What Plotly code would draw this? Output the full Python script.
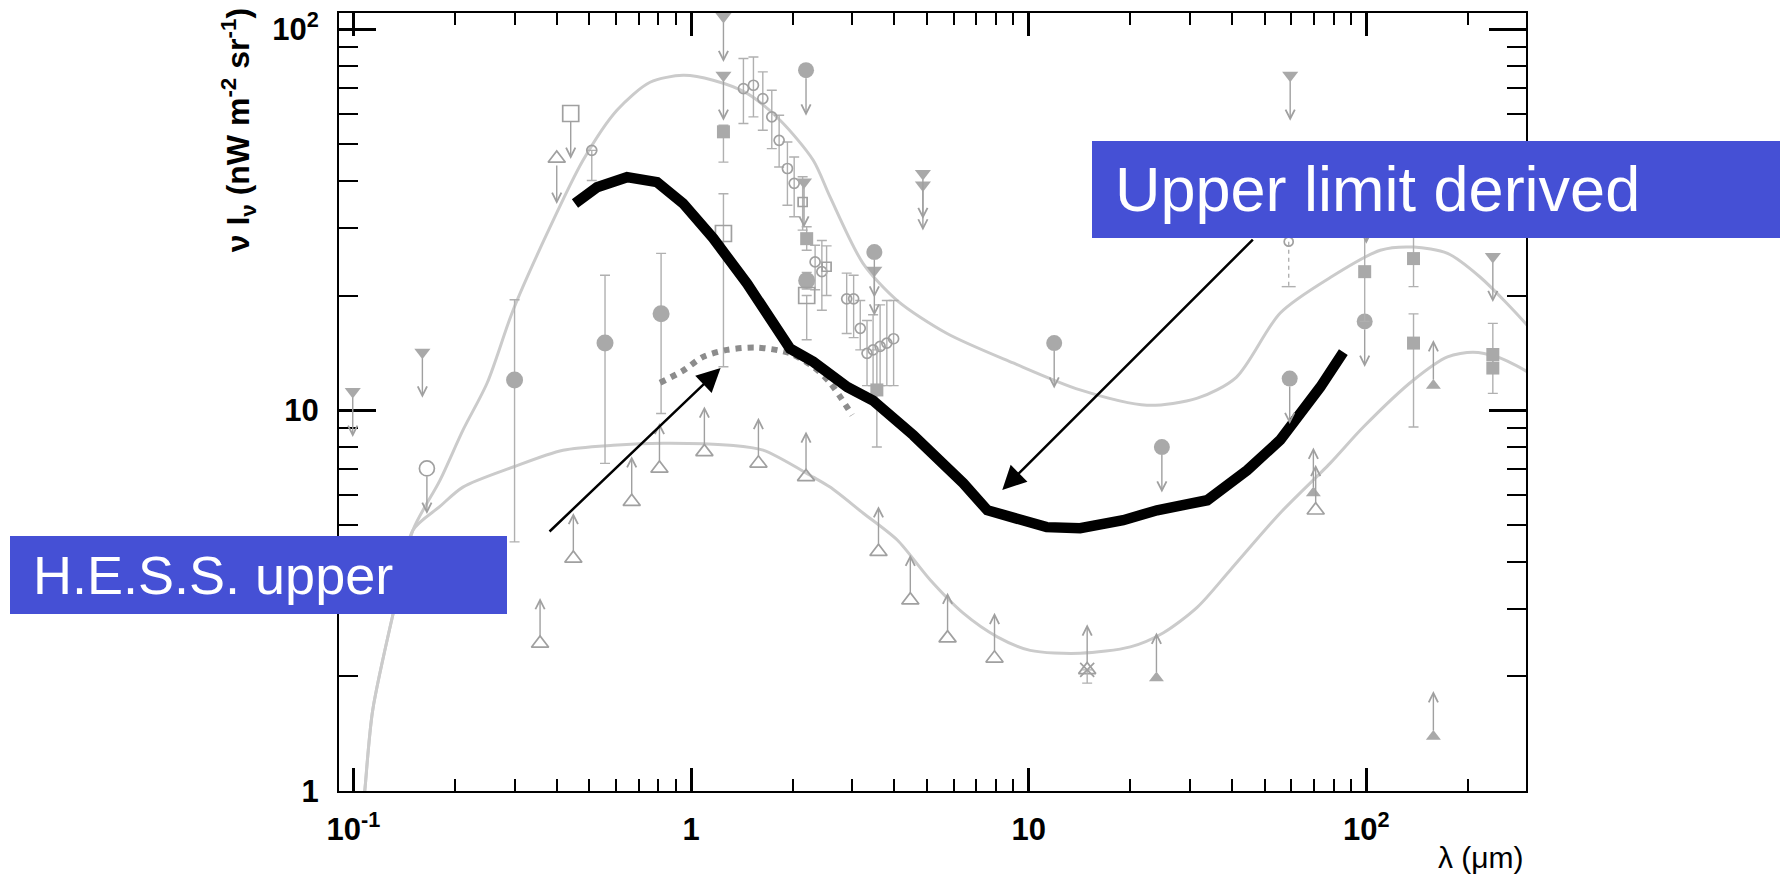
import numpy as np
import plotly.graph_objects as go

# ---------------- data (wavelength in micron, nu I_nu in nW m^-2 sr^-1) ----------------
# light grey model envelope curves
env_upper_x = [0.106, 0.108, 0.114, 0.1345, 0.150, 0.1805, 0.211, 0.249, 0.297, 0.3745,
               0.4786, 0.603, 0.756, 0.947, 1.162, 1.465, 1.835, 2.30, 2.58, 3.23,
               4.08, 5.73, 9.0, 14.2, 22.4, 31.6, 41.2, 55.6, 78.2, 110,
               138, 174, 218, 296, 320]
env_upper_y = [0.85, 1.0, 1.63, 3.23, 4.84, 6.55, 8.86, 11.8, 18.3, 29.1,
               45.3, 61.3, 72.6, 75.7, 73.5, 67.9, 57.7, 45.3, 36.3, 24.3,
               19.4, 15.9, 13.3, 11.3, 10.3, 10.75, 12.2, 18.0, 22.3, 26.3,
               26.8, 25.8, 22.3, 16.9, 15.5]
env_lower_x = [0.106, 0.108, 0.114, 0.1345, 0.150, 0.180, 0.211, 0.297, 0.4175, 0.5875,
               0.826, 1.305, 1.634, 2.30, 2.58, 3.23, 4.08, 5.11, 6.40, 8.07,
               10.1, 14.2, 20.0, 25.0, 31.6, 39.5, 55.6, 78.2, 98, 138,
               174, 207, 244, 296, 320]
env_lower_y = [0.85, 1.0, 1.63, 3.23, 4.84, 5.58, 6.28, 7.09, 7.85, 8.09,
               8.19, 8.09, 7.85, 6.67, 6.28, 5.37, 4.56, 3.58, 2.93, 2.54,
               2.34, 2.30, 2.39, 2.60, 3.04, 3.80, 5.37, 7.26, 9.03, 12.0,
               13.8, 14.2, 13.8, 12.7, 12.0]

# H.E.S.S. upper limit (thick black)
hess_x = [0.453, 0.5265, 0.646, 0.793, 0.947, 1.162, 1.465, 1.965, 2.30, 2.90, 3.46, 4.55,
          6.40, 7.54, 11.3, 14.2, 19.05, 24.0, 33.8, 44.4, 55.6, 73.1, 85.5]
hess_y = [34.9, 38.5, 40.9, 39.7, 34.9, 28.3, 21.5, 14.5, 13.4, 11.5, 10.6, 8.60,
          6.43, 5.46, 4.93, 4.90, 5.14, 5.46, 5.80, 6.96, 8.35, 11.5, 14.2]

# grey dotted curve
dot_x = [0.809, 0.947, 1.085, 1.279, 1.569, 1.965, 2.30, 2.58, 3.0]
dot_y = [11.8, 12.7, 13.8, 14.4, 14.6, 14.1, 13.0, 11.8, 9.7]

# filled circles with error bars
fc_x = [0.30, 0.556, 0.815, 2.20]
fc_y = [12.0, 15.0, 17.9, 21.9]
fc_hi = [19.5, 22.6, 25.8, 23.0]
fc_lo = [4.51, 7.25, 9.8, 20.8]
# filled circles, upper limits
fcu_x = [2.19, 3.49, 11.9, 24.8, 59.3, 98.9, 100.0]
fcu_y = [78.1, 26.0, 15.0, 8.0, 12.1, 17.1, 36.0]
# filled inverted triangles, upper limits
tdn_x = [0.0995, 0.160, 1.247, 1.247, 2.16, 3.49, 4.86, 4.86, 59.5, 237]
tdn_y = [11.2, 14.2, 108, 75.7, 39.7, 23.3, 41.8, 39.0, 75.7, 25.3]
# filled squares with error bars
fs_x = [1.247, 2.20, 3.55, 98.9, 138, 138, 237, 237]
fs_y = [53.8, 28.2, 11.3, 23.1, 25.0, 15.0, 14.0, 12.9]
fs_hi = [56.0, 30.3, 14.4, 35.0, 50.0, 17.9, 16.9, 14.0]
fs_lo = [44.8, 26.3, 8.0, 17.1, 21.1, 9.03, 12.6, 11.07]
# filled triangles, lower limits
tup_x = [23.9, 69.7, 158, 158]
tup_y = [1.98, 6.06, 11.6, 1.39]
# open triangles, lower limits
otl_x = [0.357, 0.448, 0.667, 0.806, 1.095, 1.583, 2.19, 3.59, 4.46, 5.75, 7.92, 14.9, 70.8]
otl_y = [2.44, 4.08, 5.75, 7.03, 7.77, 7.25, 6.68, 4.25, 3.17, 2.52, 2.23, 2.08, 5.46]
# open triangle, upper limit
otu_x = [0.40]
otu_y = [45.8]
# large open circle, upper limit
ocu_x = [0.165]
ocu_y = [7.03]
# open squares
osl_x = [0.44]
osl_y = [60.1]
os_x = [1.247, 2.20]
os_y = [29.1, 20.0]
os_hi = [37.0, 20.0]
os_lo = [13.0, 15.3]
# small open squares
ss_x = [2.14, 2.52]
ss_y = [35.2, 23.8]
ss_hi = [41.0, 27.0]
ss_lo = [29.7, 20.0]
# small open circles with error bars
sc_x = [0.508, 1.429, 1.53, 1.631, 1.734, 1.823, 1.929, 2.02, 2.33, 2.44,
        2.89, 3.03, 3.17, 3.32, 3.46, 3.63, 3.80, 3.98]
sc_y = [48.1, 69.9, 71.3, 65.8, 58.9, 51.1, 43.1, 39.4, 24.5, 23.1,
        19.6, 19.6, 16.4, 14.1, 14.4, 14.7, 15.0, 15.4]
sc_hi = [48.1, 83.8, 84.6, 77.3, 69.2, 59.5, 50.6, 46.2, 27.1, 27.9,
         22.9, 22.6, 19.4, 17.2, 17.8, 18.9, 19.4, 19.4]
sc_lo = [40.1, 56.6, 58.9, 54.3, 48.6, 43.5, 34.5, 32.2, 20.7, 18.3,
         15.9, 15.5, 14.4, 11.6, 11.6, 11.6, 11.6, 11.6]
# cross marker (lower limit)
xm_x = [14.9]
xm_y = [2.08]
xm_lo = [1.92]
# point with dashed error bar
dsh_x = [58.9]
dsh_y = [27.7]
dsh_lo = [21.1]

# annotation pointers (tip, tail)
ul_tip = (8.35, 6.17)
ul_tail = (46.6, 28.3)
hess_tip = (1.223, 12.9)
hess_tail = (0.377, 4.76)

x_tick_vals = [0.1, 1, 10, 100]
x_tick_text = ["10<sup>-1</sup>", "1", "10", "10<sup>2</sup>"]
y_tick_vals = [1, 10, 100]
y_tick_text = ["1", "10", "10<sup>2</sup>"]

# ---------------- style ----------------
ENV_C = "#cbcbcb"
FILL_C = "#a9a9a9"
OPEN_C = "#a0a0a0"
ERR_C = "#b0b0b0"
ARROW_C = "#a0a0a0"
BLUE = "#4550d5"
FONT = "Liberation Sans, Arial, Helvetica, sans-serif"
ARROW_LEN = 47

W, H = 1780, 878
L, R, T, B = 339, 1525.6, 12.7, 791
pw, ph = R - L, B - T


def px(xp):
    return (xp - L) / pw


def py(yp):
    return (B - yp) / ph


fig = go.Figure()


def curve(x, y, color, width, dash=None, shape="spline"):
    line = dict(color=color, width=width, shape=shape)
    if dash:
        line["dash"] = dash
    if shape == "spline":
        line["smoothing"] = 0.8
    fig.add_trace(go.Scatter(x=x, y=y, mode="lines", line=line,
                             hoverinfo="skip", showlegend=False))


def err(y, hi, lo):
    return dict(type="data", symmetric=False,
                array=[h - v for h, v in zip(hi, y)],
                arrayminus=[v - l for v, l in zip(y, lo)],
                color=ERR_C, thickness=1.4, width=5)


def points(x, y, symbol, size, open_=False, error=None):
    if open_:
        marker = dict(symbol=symbol, size=size, color=OPEN_C,
                      line=dict(color=OPEN_C, width=1.7))
    else:
        marker = dict(symbol=symbol, size=size, color=FILL_C,
                      line=dict(color=FILL_C, width=0))
    fig.add_trace(go.Scatter(x=x, y=y, mode="markers", marker=marker,
                             error_y=error, hoverinfo="skip", showlegend=False))


def limit_arrows(x, y, up, standoff):
    for xv, yv in zip(x, y):
        fig.add_annotation(x=np.log10(xv), y=np.log10(yv), xref="x", yref="y",
                           text="", showarrow=True, ax=0,
                           ay=-ARROW_LEN if up else ARROW_LEN,
                           arrowside="start", startarrowhead=5, startarrowsize=1.3,
                           arrowwidth=1.4, arrowcolor=ARROW_C,
                           standoff=standoff, startstandoff=0)


# curves
curve(env_upper_x, env_upper_y, ENV_C, 3)
curve(env_lower_x, env_lower_y, ENV_C, 3)

# data points
points(sc_x, sc_y, "circle-open", 10, True, err(sc_y, sc_hi, sc_lo))
points(ss_x, ss_y, "square-open", 9, True, err(ss_y, ss_hi, ss_lo))
points(fc_x, fc_y, "circle", 17, False, err(fc_y, fc_hi, fc_lo))
points(fcu_x, fcu_y, "circle", 16)
points(tdn_x, tdn_y, "triangle-down", 14)
points(fs_x, fs_y, "square", 13, False, err(fs_y, fs_hi, fs_lo))
points(tup_x, tup_y, "triangle-up", 13)
points(otl_x, otl_y, "triangle-up-open", 15, True)
points(otu_x, otu_y, "triangle-up-open", 15, True)
points(ocu_x, ocu_y, "circle-open", 15, True)
points(osl_x, osl_y, "square-open", 16, True)
points(os_x, os_y, "square-open", 16, True, err(os_y, os_hi, os_lo))
points(xm_x, xm_y, "x-thin-open", 14, True, err(xm_y, xm_y, xm_lo))
# dashed error bar point
for xv, yv, lv in zip(dsh_x, dsh_y, dsh_lo):
    fig.add_trace(go.Scatter(x=[xv, xv], y=[yv, lv], mode="lines",
                             line=dict(color=ERR_C, width=1.4, dash="4px,4px"),
                             hoverinfo="skip", showlegend=False))
    fig.add_trace(go.Scatter(x=[xv], y=[lv], mode="markers",
                             marker=dict(symbol="line-ew-open", size=10, color=ERR_C,
                                         line=dict(color=ERR_C, width=1.4)),
                             hoverinfo="skip", showlegend=False))
points(dsh_x, dsh_y, "circle-open", 9, True)

# H.E.S.S. curves
curve(dot_x, dot_y, "#8c8c8c", 6, dash="6px,6px")
curve(hess_x, hess_y, "black", 10.5, shape="linear")

# limit arrows
limit_arrows(fcu_x, fcu_y, False, 8)
limit_arrows(tdn_x, tdn_y, False, 6)
limit_arrows(otu_x, otu_y, False, 7)
limit_arrows(ocu_x, ocu_y, False, 8)
limit_arrows(osl_x, osl_y, False, 8)
limit_arrows(otl_x, otl_y, True, 7)
limit_arrows(tup_x, tup_y, True, 6)

# label boxes
fig.add_annotation(xref="paper", yref="paper", x=px(1092), y=py(141),
                   xanchor="left", yanchor="top", text="&nbsp;", showarrow=False,
                   width=688, height=97, bgcolor=BLUE, borderpad=0, borderwidth=0)
fig.add_annotation(xref="paper", yref="paper", x=px(10), y=py(536),
                   xanchor="left", yanchor="top", text="&nbsp;", showarrow=False,
                   width=497, height=78, bgcolor=BLUE, borderpad=0, borderwidth=0)
fig.add_annotation(xref="paper", yref="paper", x=px(1113), y=py(189),
                   xanchor="left", yanchor="middle", text="Upper limit derived",
                   showarrow=False, font=dict(family=FONT, size=63, color="white"))
fig.add_annotation(xref="paper", yref="paper", x=px(31), y=py(575),
                   xanchor="left", yanchor="middle", text="H.E.S.S. upper",
                   showarrow=False, font=dict(family=FONT, size=54, color="white"))

# pointer arrows
for tip, tail in ((ul_tip, ul_tail), (hess_tip, hess_tail)):
    fig.add_annotation(x=np.log10(tip[0]), y=np.log10(tip[1]), xref="x", yref="y",
                       ax=np.log10(tail[0]), ay=np.log10(tail[1]), axref="x", ayref="y",
                       text="", showarrow=True, arrowhead=2, arrowsize=1.9,
                       arrowwidth=2.5, arrowcolor="black", standoff=0)

# axis titles
fig.add_annotation(xref="paper", yref="paper", x=px(238), y=py(6),
                   xanchor="center", yanchor="top", textangle=-90, showarrow=False,
                   text="\u03bd I<sub>\u03bd</sub> (nW m<sup>-2</sup> sr<sup>-1</sup>)",
                   font=dict(family=FONT, size=32, color="black", weight="bold"))
fig.add_annotation(xref="paper", yref="paper", x=1.0, y=py(858),
                   xanchor="right", yanchor="middle", showarrow=False,
                   text="\u03bb (\u03bcm)",
                   font=dict(family=FONT, size=30, color="black"))

x_minor = [m * 10.0 ** e for e in (-1, 0, 1, 2) for m in range(2, 10)]
y_minor = [m * 10.0 ** e for e in (0, 1) for m in range(2, 10)]

axis_common = dict(type="log", showgrid=False, zeroline=False, showline=True,
                   linecolor="black", linewidth=2, mirror="ticks", ticks="inside",
                   tickcolor="black", automargin=False, tickmode="array",
                   tickfont=dict(family=FONT, size=31, color="black", weight="bold"))

fig.update_xaxes(**axis_common, range=[np.log10(0.0906), 2.473],
                 tickvals=x_tick_vals, ticktext=x_tick_text, ticklen=23, tickwidth=2.5,
                 ticklabelstandoff=10,
                 minor=dict(tickmode="array", tickvals=x_minor, ticks="inside",
                            ticklen=12, tickwidth=2, tickcolor="black", showgrid=False))
fig.update_yaxes(**axis_common, range=[0, 2.0428],
                 tickvals=y_tick_vals, ticktext=y_tick_text, ticklen=37, tickwidth=2.5,
                 ticklabelstandoff=12,
                 minor=dict(tickmode="array", tickvals=y_minor, ticks="inside",
                            ticklen=19, tickwidth=2, tickcolor="black", showgrid=False))

fig.update_layout(template="none", width=W, height=H,
                  margin=dict(l=L, r=W - R, t=T, b=H - B, pad=0),
                  paper_bgcolor="white", plot_bgcolor="white",
                  font=dict(family=FONT, color="black"), showlegend=False)

fig.write_html("out.html", config={"displayModeBar": False},
               post_script="document.body.style.margin='0px';")
